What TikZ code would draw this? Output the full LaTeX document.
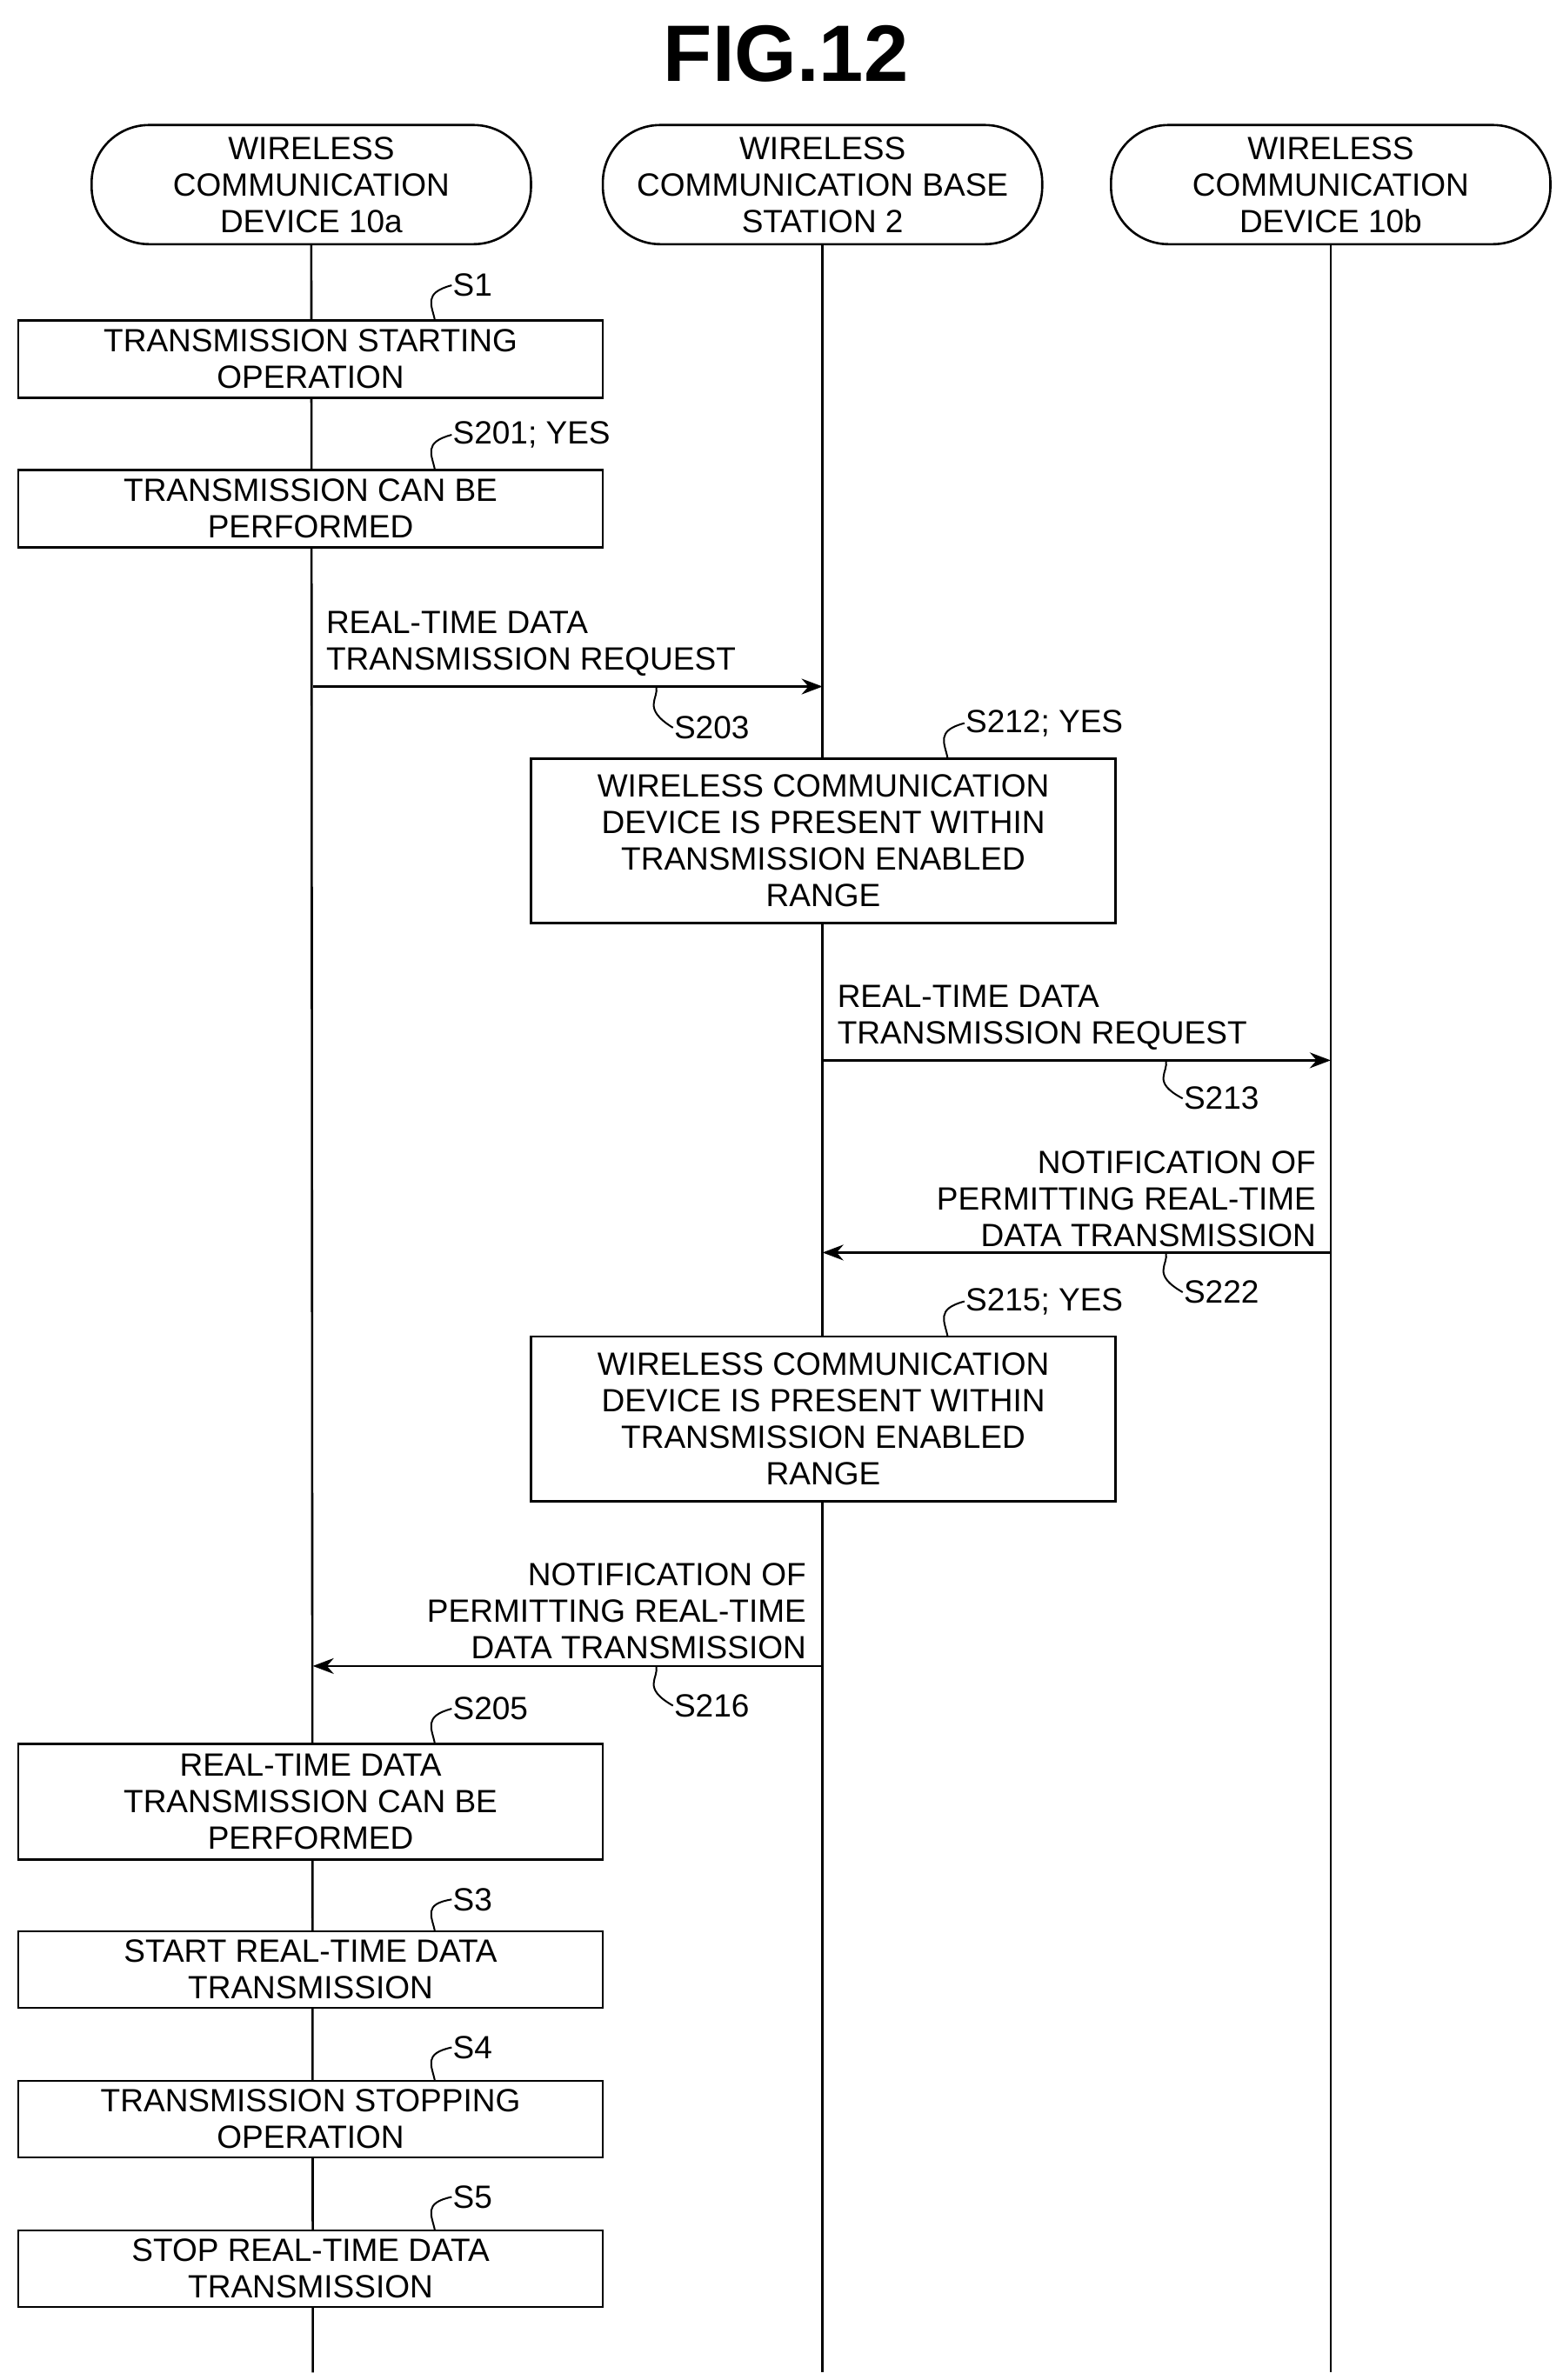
\documentclass[tikz,border=0pt]{standalone}
\usepackage{fontspec}
\setmainfont{Liberation Sans}
\usetikzlibrary{arrows.meta}
\begin{document}
\begin{tikzpicture}[x=1.754pt,y=-1.754pt,line width=2.6pt,
  every node/.style={font=\fontsize{37}{42}\selectfont,inner sep=0pt},
  hdr/.style={draw,rounded corners=66pt,minimum width=505pt,minimum height=137pt,align=center},
  box/.style={draw,minimum width=672pt,align=center},
  lbl/.style={anchor=west},
  arr/.style={-{Stealth[length=24pt,width=18pt]}},
  sq/.style={line width=2pt}]
\useasboundingbox (0,0) rectangle (1024,1560);
\node[font=\fontsize{92}{100}\selectfont\bfseries] (title) at (515,35) {FIG.12};
\node[hdr] (ha) at (204,121) {WIRELESS\\COMMUNICATION\\DEVICE 10a};
\node[hdr] (hb) at (539,121) {WIRELESS\\COMMUNICATION BASE\\STATION 2};
\node[hdr] (hc) at (872,121) {WIRELESS\\COMMUNICATION\\DEVICE 10b};
\coordinate (ea) at (205,1555); \coordinate (eb) at (539,1555); \coordinate (ec) at (872,1555);
\draw (ha.south) -- (ea); \draw (hb.south) -- (eb); \draw (hc.south) -- (ec);
% boxes
\node[box,minimum height=89pt,fill=white] (b1) at (203.5,235.5) {TRANSMISSION STARTING\\OPERATION};
\node[box,minimum height=89pt,fill=white] (b201) at (203.5,333.5) {TRANSMISSION CAN BE\\PERFORMED};
\node[box,minimum height=189pt,fill=white] (b212) at (539.5,551) {WIRELESS COMMUNICATION\\DEVICE IS PRESENT WITHIN\\TRANSMISSION ENABLED\\RANGE};
\node[box,minimum height=189pt,fill=white] (b215) at (539.5,930) {WIRELESS COMMUNICATION\\DEVICE IS PRESENT WITHIN\\TRANSMISSION ENABLED\\RANGE};
\node[box,minimum height=133pt,fill=white] (b205) at (203.5,1181) {REAL-TIME DATA\\TRANSMISSION CAN BE\\PERFORMED};
\node[box,minimum height=88pt,fill=white] (b3) at (203.5,1291) {START REAL-TIME DATA\\TRANSMISSION};
\node[box,minimum height=88pt,fill=white] (b4) at (203.5,1389) {TRANSMISSION STOPPING\\OPERATION};
\node[box,minimum height=88pt,fill=white] (b5) at (203.5,1487) {STOP REAL-TIME DATA\\TRANSMISSION};
% box labels
\node[lbl] (l1) at (296,187) {S1};
\node[lbl] (l201) at (296,285) {S201; YES};
\node[lbl] (l212) at (632,474) {S212; YES};
\node[lbl] (l215) at (632,853) {S215; YES};
\node[lbl] (l205) at (296,1120) {S205};
\node[lbl] (l3) at (296,1245) {S3};
\node[lbl] (l4) at (296,1342) {S4};
\node[lbl] (l5) at (296,1440) {S5};
\foreach \n/\x/\y in {l1/285/210, l201/285/308, l212/621/497, l215/621/876, l205/285/1143, l3/285/1266, l4/285/1364, l5/285/1462}
  \draw[sq] (\x,\y) .. controls (\x-2,\y-10) and (\x-8,\y-18) .. (\n.west);
% arrows
\coordinate (a1s) at (205,450); \coordinate (a1e) at (539,450);
\draw[arr] (a1s) -- (a1e);
\node[anchor=south west,align=left] (t1) at (213,444) {REAL-TIME DATA\\TRANSMISSION REQUEST};
\coordinate (a2s) at (539,695); \coordinate (a2e) at (872,695);
\draw[arr] (a2s) -- (a2e);
\node[anchor=south west,align=left] (t2) at (548,689) {REAL-TIME DATA\\TRANSMISSION REQUEST};
\coordinate (a3s) at (872,821); \coordinate (a3e) at (539,821);
\draw[arr] (a3s) -- (a3e);
\node[anchor=south east,align=right] (t3) at (863,818) {NOTIFICATION OF\\PERMITTING REAL-TIME\\DATA TRANSMISSION};
\coordinate (a4s) at (539,1092); \coordinate (a4e) at (205,1092);
\draw[arr] (a4s) -- (a4e);
\node[anchor=south east,align=right] (t4) at (529,1088) {NOTIFICATION OF\\PERMITTING REAL-TIME\\DATA TRANSMISSION};
% arrow labels
\node[lbl] (l203) at (441,477) {S203};
\node[lbl] (l213) at (775,720) {S213};
\node[lbl] (l222) at (775,847) {S222};
\node[lbl] (l216) at (441,1118) {S216};
\foreach \n/\x/\y in {l203/430/450, l213/764/695, l222/764/821, l216/430/1092}
  \draw[sq] (\x,\y) .. controls (\x+2,\y+8) and (\x-10,\y+14) .. (\n.west);
\end{tikzpicture}
\end{document}
